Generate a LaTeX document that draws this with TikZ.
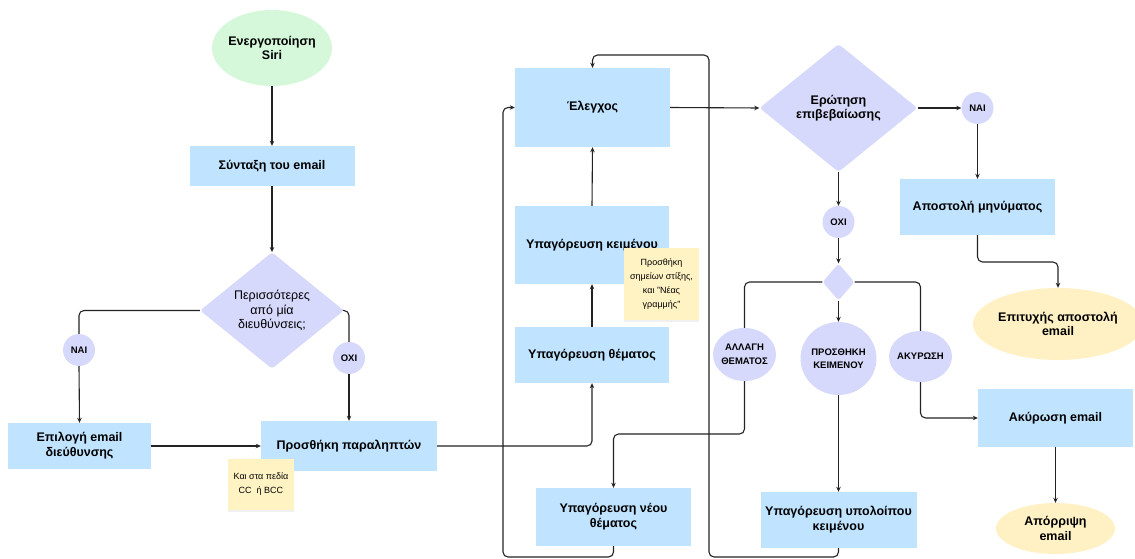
\documentclass[tikz,border=0pt]{standalone}
\usepackage{fontspec}
\setmainfont{Liberation Sans}
\usetikzlibrary{shapes.geometric,arrows.meta,calc,shadows}
\definecolor{boxblue}{RGB}{192,228,255}
\definecolor{lav}{RGB}{215,217,252}
\definecolor{mint}{RGB}{212,248,217}
\definecolor{cream}{RGB}{255,241,196}
\definecolor{notecol}{RGB}{255,243,196}
\definecolor{lin}{RGB}{35,35,35}
\pgfdeclarelayer{bg}
\pgfsetlayers{bg,main}
\tikzset{
  box/.style={rectangle, fill=boxblue, inner sep=2pt, align=center, font=\fontsize{12.5}{15}\selectfont\bfseries},
  dia/.style={diamond, fill=lav, inner sep=0pt, align=center, rounded corners=3pt},
  ell/.style={ellipse, inner sep=0pt},
  biglbl/.style={align=center, inner sep=0pt, font=\fontsize{12.5}{14.5}\selectfont\bfseries},
  lbl/.style={align=center, inner sep=0pt, font=\fontsize{9.5}{13.5}\selectfont\bfseries},
  stick/.style={rectangle, fill=notecol, inner sep=1pt, align=center, font=\fontsize{9}{14}\selectfont,
    drop shadow={opacity=0.12, shadow xshift=0pt, shadow yshift=-2pt}},
  conn/.style={draw=lin, line width=1.1pt, rounded corners=5pt},
  arr/.style={conn, -{Stealth[length=5pt,width=4.5pt]}},
}
\begin{document}
\begin{tikzpicture}[x=1pt,y=-1pt]
\useasboundingbox (0,0) rectangle (1135,559);
% left part
\node[ell, fill=mint, minimum width=120pt, minimum height=76pt, label={[biglbl]center:Ενεργοποίηση\\Siri}] (siri) at (272,48) {};
\node[box, minimum width=165pt, minimum height=40pt] (synt) at (272,166) {Σύνταξη του email};
\node[dia, minimum width=144pt, minimum height=113pt, font=\fontsize{12.5}{14.5}\selectfont] (d1) at (272,310.5) {Περισσότερες\\από μία\\διευθύνσεις;};
\node[ell, fill=lav, minimum width=32pt, minimum height=32pt, label={[lbl]center:ΝΑΙ}] (nai1) at (79,350) {};
\node[ell, fill=lav, minimum width=32pt, minimum height=32pt, label={[lbl]center:ΟΧΙ}] (oxi1) at (349,358) {};
\node[box, minimum width=143pt, minimum height=46pt] (epil) at (79.5,446) {Επιλογή email\\διεύθυνσης};
\node[box, minimum width=176pt, minimum height=50pt] (prosth) at (349,446) {Προσθήκη παραληπτών};
\node[stick, minimum width=66pt, minimum height=51pt] (note1) at (261,484.5) {Και στα πεδία\\CC\ \ ή BCC};
% middle column
\node[box, minimum width=154pt, minimum height=56pt] (ypthem) at (592,355) {Υπαγόρευση θέματος};
\node[box, minimum width=154pt, minimum height=78pt] (ypkeim) at (592,245) {Υπαγόρευση κειμένου};
\node[stick, minimum width=75pt, minimum height=72pt] (note2) at (661.5,284) {Προσθήκη\\σημείων στίξης,\\και "Νέας\\γραμμής"};
\node[box, minimum width=155pt, minimum height=79pt] (elen) at (592.5,107.5) {Έλεγχος};
\node[box, minimum width=155pt, minimum height=58pt] (ypneou) at (613.5,517) {Υπαγόρευση νέου\\θέματος};
% right part
\node[dia, minimum width=158pt, minimum height=128pt, font=\fontsize{12.5}{14.5}\selectfont\bfseries] (erot) at (838.5,108) {Ερώτηση\\επιβεβαίωσης};
\node[ell, fill=lav, minimum width=32pt, minimum height=32pt, label={[lbl]center:ΝΑΙ}] (nai2) at (977.5,108) {};
\node[box, minimum width=155pt, minimum height=56pt] (apost) at (977.5,207) {Αποστολή μηνύματος};
\node[ell, fill=cream, minimum width=170pt, minimum height=72pt, label={[biglbl]center:Επιτυχής αποστολή\\email}] (epit) at (1058,324) {};
\node[ell, fill=lav, minimum width=32pt, minimum height=32pt, label={[lbl]center:ΟΧΙ}] (oxi2) at (838.5,222) {};
\node[dia, minimum width=32pt, minimum height=37pt] (d2) at (838.5,282) {};
\node[ell, fill=lav, minimum width=63pt, minimum height=53pt, label={[lbl]center:ΑΛΛΑΓΗ\\ΘΕΜΑΤΟΣ}] (allagi) at (744.5,354.5) {};
\node[ell, fill=lav, minimum width=76pt, minimum height=73pt, label={[lbl]center:ΠΡΟΣΘΗΚΗ\\ΚΕΙΜΕΝΟΥ}] (prosk) at (838.5,358.5) {};
\node[ell, fill=lav, minimum width=63pt, minimum height=51pt, label={[lbl]center:ΑΚΥΡΩΣΗ}] (akyr) at (920.5,356.5) {};
\node[box, minimum width=156pt, minimum height=56pt] (yploip) at (838.5,520) {Υπαγόρευση υπολοίπου\\κειμένου};
\node[box, minimum width=155pt, minimum height=58pt] (akyrbox) at (1055.5,418) {Ακύρωση email};
\node[ell, fill=cream, minimum width=119pt, minimum height=51pt, label={[biglbl]center:Απόρριψη\\email}] (aporr) at (1055.5,528.5) {};
% helper points
\coordinate (c1) at (1020,262);
\coordinate (c2) at (680,434);
\coordinate (c3) at (503,557);
\coordinate (c4) at (709,557);
\coordinate (c5) at (709,55);
\begin{pgfonlayer}{bg}
\draw[arr] (siri.south) -- (synt.north);
\draw[arr] (synt.south) -- (d1.north);
\draw[conn] (d1.west) -| (nai1.north);
\draw[arr] (nai1.south) -- (epil.north);
\draw[conn] (d1.east) -| (oxi1.north);
\draw[arr] (oxi1.south) -- (prosth.north);
\draw[arr] (epil.east) -- (prosth.west);
\draw[arr] (prosth.east) -| (ypthem.south);
\draw[arr] (ypthem.north) -- (ypkeim.south);
\draw[arr] (ypkeim.north) -- (elen.south);
\draw[arr] (elen.east) -- (erot.west);
\draw[arr] (erot.east) -- (nai2.west);
\draw[arr] (nai2.south) -- (apost.north);
\draw[arr] (apost.south) |- (c1) -| (epit.north);
\draw[arr] (erot.south) -- (oxi2.north);
\draw[arr] (oxi2.south) -- (d2.north);
\draw[conn] (d2.west) -| (allagi.north);
\draw[conn] (d2.east) -| (akyr.north);
\draw[arr] (d2.south) -- (prosk.north);
\draw[arr] (prosk.south) -- (yploip.north);
\draw[arr] (allagi.south) |- (c2) -| (ypneou.north);
\draw[arr] (ypneou.south) |- (c3) |- (elen.west);
\draw[arr] (yploip.south) |- (c4) -- (c5) -| (elen.north);
\draw[arr] (akyr.south) |- (akyrbox.west);
\draw[arr] (akyrbox.south) -- (aporr.north);
\end{pgfonlayer}
\end{tikzpicture}
\end{document}
